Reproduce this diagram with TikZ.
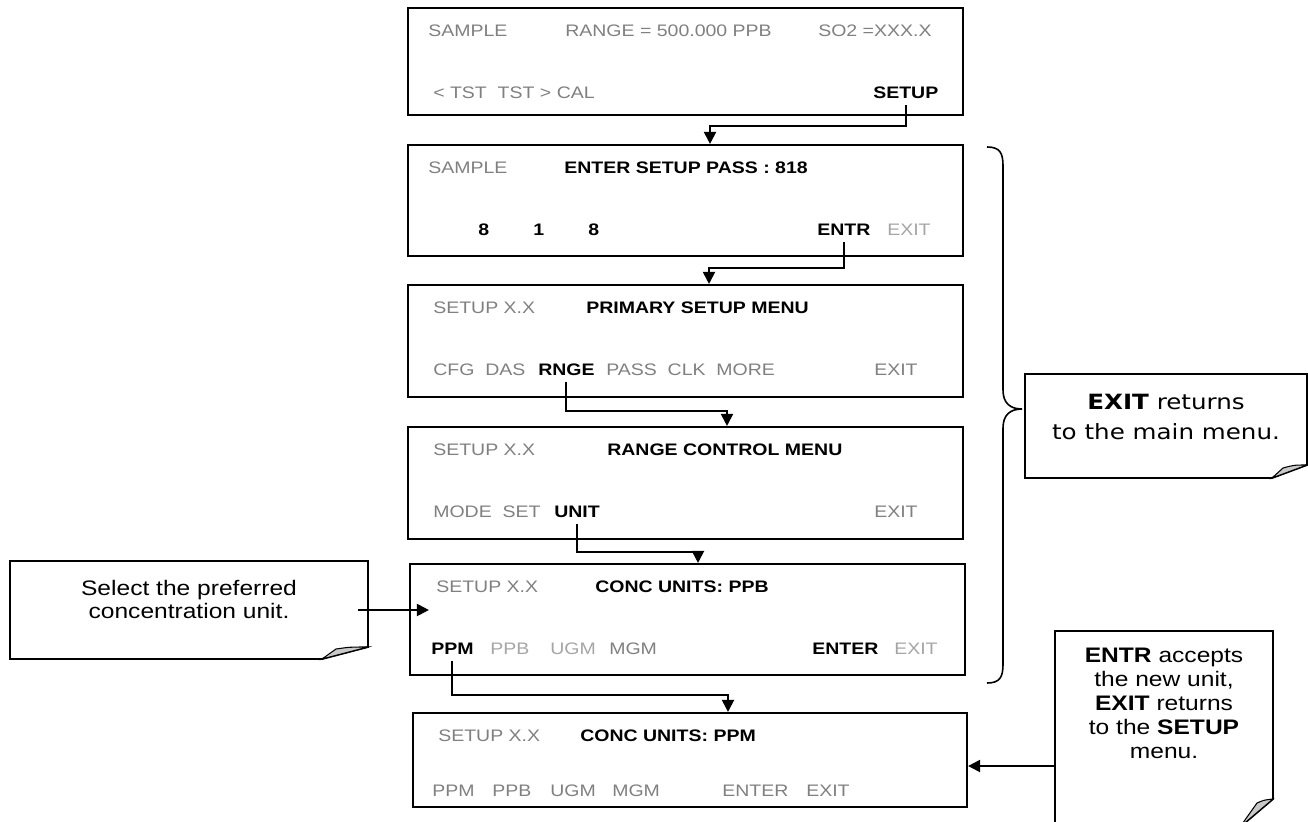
\documentclass[tikz,border=0pt]{standalone}
\usepackage{fontspec}
\setmainfont{Liberation Sans}[FakeStretch=1.17]
\newfontfamily\notefont{DejaVu Sans}[FakeStretch=1.17]
\usetikzlibrary{arrows.meta,fit,calc}
\definecolor{dim}{RGB}{128,128,128}
\definecolor{faint}{RGB}{165,165,165}
\definecolor{foldgray}{RGB}{200,200,200}

\begin{document}
\begin{tikzpicture}[x=0.75pt, y=-0.75pt, >={Triangle[length=9pt,width=9pt]},
  screen/.style={draw, line width=1.6pt, inner sep=0pt},
  txt/.style={anchor=base west, inner xsep=0pt, inner ysep=5pt, text=dim, font=\fontsize{12.5}{15}\selectfont},
  key/.style={txt, text=black, font=\fontsize{12.5}{15}\selectfont\bfseries},
  flow/.style={->, line width=1.5pt},
  note/.style={draw, line width=1.4pt, fill=white},
  fold/.style={draw, line width=0.8pt, fill=foldgray},
  notetext/.style={anchor=north, align=center, inner sep=0pt},
  brace/.style={line width=1.2pt}]
  \useasboundingbox (0,0) rectangle (1308,821);
  \node[screen, fit={(408,8) (963,115)}] (s1) {};
  \node[screen, fit={(408,145) (963,256)}] (s2) {};
  \node[screen, fit={(408,285) (963,397)}] (s3) {};
  \node[screen, fit={(408,427) (963,539)}] (s4) {};
  \node[screen, fit={(410,564) (965,675)}] (s5) {};
  \node[screen, fit={(413,713) (967,807)}] (s6) {};
  \node[txt] (b1a) at (428,36) {SAMPLE};
  \node[txt] (b1b) at (565,36) {RANGE = 500.000 PPB};
  \node[txt] (b1c) at (818,36) {SO2 =XXX.X};
  \node[txt] (b1d) at (433,98) {< TST\ \ TST > CAL};
  \node[key] (b1e) at (873,98) {SETUP};
  \node[txt] (b2a) at (428,173) {SAMPLE};
  \node[key] (b2b) at (564,173) {ENTER SETUP PASS : 818};
  \node[key] (b2c) at (478,235) {8};
  \node[key] (b2d) at (533,235) {1};
  \node[key] (b2e) at (588,235) {8};
  \node[key] (b2f) at (817,235) {ENTR};
  \node[txt, text=faint] (b2g) at (887,235) {EXIT};
  \node[txt] (b3a) at (433,313) {SETUP X.X};
  \node[key] (b3b) at (586,313) {PRIMARY SETUP MENU};
  \node[txt] (b3c) at (433,375) {CFG\ \ DAS};
  \node[key] (b3d) at (538,375) {RNGE};
  \node[txt] (b3e) at (606,375) {PASS\ \ CLK\ \ MORE};
  \node[txt] (b3f) at (874,375) {EXIT};
  \node[txt] (b4a) at (433,455) {SETUP X.X};
  \node[key] (b4b) at (607,455) {RANGE CONTROL MENU};
  \node[txt] (b4c) at (433,517) {MODE\ \ SET};
  \node[key] (b4d) at (554,517) {UNIT};
  \node[txt] (b4e) at (874,517) {EXIT};
  \node[txt] (b5a) at (436,592) {SETUP X.X};
  \node[key] (b5b) at (595,592) {CONC UNITS: PPB};
  \node[key] (b5c) at (431,654) {PPM};
  \node[txt, text=faint] (b5d) at (490,654) {PPB};
  \node[txt, text=faint] (b5e) at (550,654) {UGM};
  \node[txt] (b5f) at (609,654) {MGM};
  \node[key] (b5g) at (812,654) {ENTER};
  \node[txt, text=faint] (b5h) at (894,654) {EXIT};
  \node[txt] (b6a) at (438,741) {SETUP X.X};
  \node[key] (b6b) at (580,741) {CONC UNITS: PPM};
  \node[txt] (b6c) at (432,796) {PPM};
  \node[txt] (b6d) at (492,796) {PPB};
  \node[txt] (b6e) at (550,796) {UGM};
  \node[txt] (b6f) at (612,796) {MGM};
  \node[txt] (b6g) at (722,796) {ENTER};
  \node[txt] (b6h) at (806,796) {EXIT};
  \coordinate (e1) at (710,126);
  \coordinate (e2) at (709,268);
  \coordinate (e3) at (727,411);
  \coordinate (e4) at (698,552);
  \coordinate (e5) at (728,695);
  \draw[flow] (b1e.south) |- (e1) -- (e1 |- s2.north);
  \draw[flow] (b2f.south) |- (e2) -- (e2 |- s3.north);
  \draw[flow] (b3d.south) |- (e3) -- (e3 |- s4.north);
  \draw[flow] (b4d.south) |- (e4) -- (e4 |- s5.north);
  \draw[flow] (b5c.south) |- (e5) -- (e5 |- s6.north);
  \draw[note] (10,561) -- (368,561) -- (368,647) -- (322,659) -- (10,659) -- cycle;
  \filldraw[fold] (322,659) -- (336,649) .. controls (350,647) .. (368,647) -- cycle;
  \node[notetext, font=\fontsize{15.75}{17.25}\selectfont] (sel) at (189,580) {Select the preferred\\concentration unit.};
  \coordinate (selout) at (358,610);
  \draw[flow] (selout) -- ($(s5.west |- selout)+(20,0)$);
  \draw[brace] (987,147) .. controls (1000,147) and (1003,153) .. (1003,166) -- (1003,390)
    .. controls (1003,403) and (1010,409) .. (1022,409)
    .. controls (1010,409) and (1003,415) .. (1003,428) -- (1003,664)
    .. controls (1003,677) and (1000,683) .. (987,683);
  \draw[note] (1025,374) -- (1307,374) -- (1307,465) -- (1272,478) -- (1025,478) -- cycle;
  \filldraw[fold] (1272,478) -- (1283,468) .. controls (1294,465) .. (1307,465) -- cycle;
  \node[notetext, font=\notefont\fontsize{15.75}{22.5}\selectfont] (ret) at (1166,394) {\textbf{EXIT} returns\\to the main menu.};
  \draw[note] (1055,631) -- (1273,631) -- (1273,799) -- (1240,827) -- (1055,827) -- cycle;
  \filldraw[fold] (1240,827) -- (1257,803) .. controls (1264,800) .. (1273,799) -- cycle;
  \node[notetext, font=\fontsize{15.75}{18}\selectfont] (acc) at (1164,648) {\textbf{ENTR} accepts\\the new unit,\\\textbf{EXIT} returns\\to the \textbf{SETUP}\\menu.};
  \coordinate (accin) at (1055,766);
  \draw[flow] (accin) -- (accin -| s6.east);
\end{tikzpicture}
\end{document}
